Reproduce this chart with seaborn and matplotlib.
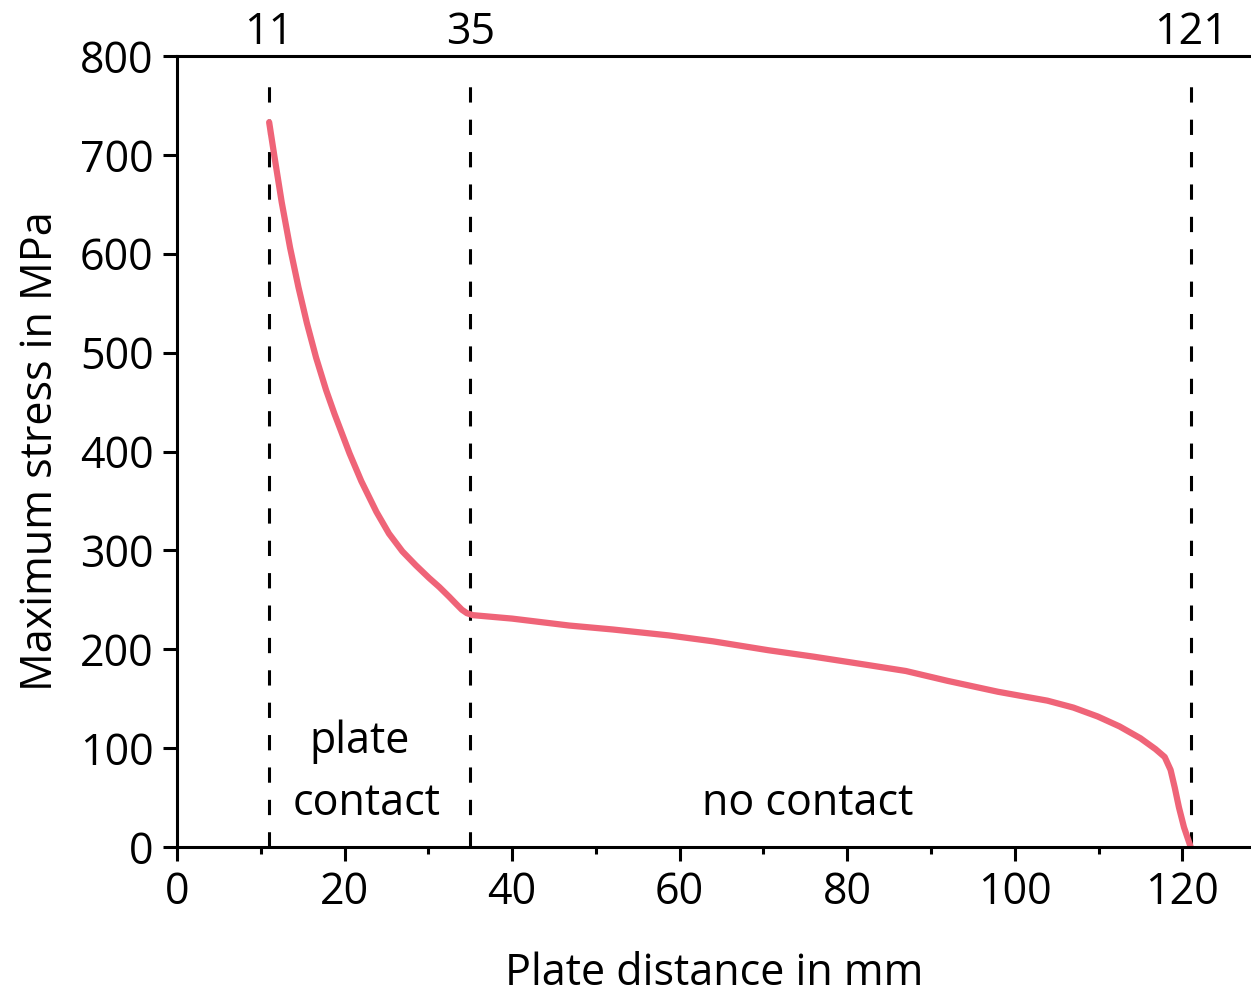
import matplotlib
matplotlib.use("Agg")
import matplotlib.pyplot as plt
import seaborn as sns
import pandas as pd

# Data
plate_distance = [11.0, 11.6, 12.5, 13.5, 14.5, 15.5, 16.6, 17.8, 18.8, 20.6, 22.0, 23.8, 25.3, 26.9,
                  28.5, 30.1, 31.3, 32.5, 33.3, 34.0, 34.6, 35.3,
                  40.0, 46.8, 52.0, 58.7, 64.0, 70.6, 76.0, 82.5, 87.0, 92.0, 98.0, 103.9, 107.0,
                  109.9, 112.5, 115.0, 116.8, 117.9, 118.6, 119.1, 119.6, 120.2, 121.0]
max_stress = [733, 700, 652, 606, 566, 530, 495, 462, 438, 398, 370, 339, 317, 299,
              285, 272, 263, 253, 246, 240, 236.5, 234.5,
              231, 224, 220, 214, 208, 199, 192.5, 184, 178, 168, 157, 148, 141,
              132, 122, 110, 99, 91, 78, 60, 40, 20, 0]
boundary_positions = [11, 35, 121]
boundary_labels = ["11", "35", "121"]
region_labels = ["plate", "contact", "no contact"]

df = pd.DataFrame({"x": plate_distance, "y": max_stress})

sns.set_style("ticks")
plt.rcParams["font.family"] = ["Open Sans", "DejaVu Sans"]
FS = 31

fig = plt.figure(figsize=(12.51, 9.98), dpi=100)
ax = fig.add_axes([177 / 1251, 1 - 847 / 998, 1 - 177 / 1251, (847 - 56) / 998])

sns.lineplot(data=df, x="x", y="y", sort=False, ax=ax, color="#EF6478", linewidth=4.5,
             estimator=None)
for ln in ax.get_lines():
    ln.set_solid_joinstyle("round")
    ln.set_solid_capstyle("round")

for bx in boundary_positions:
    ax.vlines(bx, 0, 785, colors="black", linewidth=2.2, linestyles=(0, (5, 5.6)), zorder=1)

ax.set_xlim(0, 128.2)
ax.set_ylim(0, 800)
ax.set_xticks([0, 20, 40, 60, 80, 100, 120])
ax.set_xticks([10, 30, 50, 70, 90, 110], minor=True)
ax.set_yticks([0, 100, 200, 300, 400, 500, 600, 700, 800])

for s in ["left", "bottom", "top"]:
    ax.spines[s].set_linewidth(2.2)
    ax.spines[s].set_color("black")
ax.spines["right"].set_visible(False)

ax.tick_params(axis="both", which="major", length=10, width=2.2, labelsize=FS, color="black",
               labelcolor="black", pad=7)
ax.tick_params(axis="x", which="minor", length=5, width=2.2, color="black")

secax = ax.secondary_xaxis("top")
secax.set_xticks(boundary_positions)
secax.set_xticklabels(boundary_labels)
secax.tick_params(length=0, labelsize=FS, pad=1, labelcolor="black")
secax.spines["top"].set_visible(False)

ax.set_xlabel("Plate distance in mm", fontsize=FS, labelpad=26, color="black")
ax.set_ylabel("Maximum stress in MPa", fontsize=FS, labelpad=12, color="black")

ax.text(21.8, 106, region_labels[0], fontsize=FS, ha="center", va="center", color="black")
ax.text(22.6, 44, region_labels[1], fontsize=FS, ha="center", va="center", color="black")
ax.text(75.3, 44, region_labels[2], fontsize=FS, ha="center", va="center", color="black")

fig.savefig("out.png", dpi=100)
